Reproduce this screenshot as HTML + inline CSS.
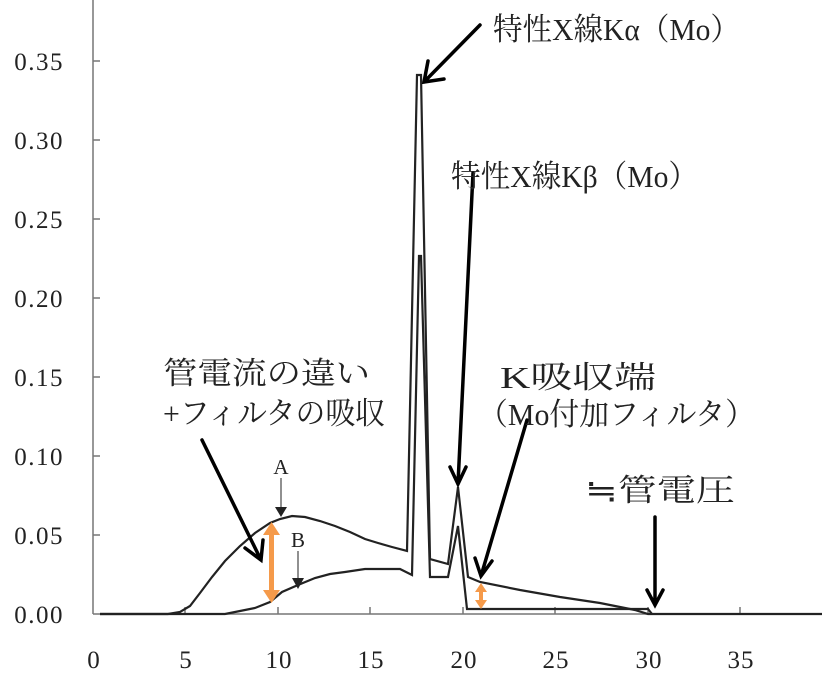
<!DOCTYPE html>
<html><head><meta charset="utf-8"><style>
body{margin:0;background:#fff}
svg{display:block}
text{font-family:"Liberation Serif","Noto Serif CJK JP","Noto Serif CJK SC",serif;fill:#222}
</style></head><body>
<svg width="822" height="683" viewBox="0 0 822 683">
<g stroke="#777" stroke-width="1.5" fill="none">
<line x1="93" y1="0" x2="93" y2="614"/>
<line x1="93" y1="614" x2="822" y2="614"/>
<path d="M93,535h7M93,456h7M93,377h7M93,298h7M93,219h7M93,140h7M93,61h7"/>
<path d="M185,614v-7M278,614v-7M370,614v-7M463,614v-7M555,614v-7M648,614v-7M740,614v-7"/>
</g>
<g font-size="25" text-anchor="end" letter-spacing="1.5">
<text x="64" y="623">0.00</text><text x="64" y="544">0.05</text><text x="64" y="465">0.10</text>
<text x="64" y="386">0.15</text><text x="64" y="307">0.20</text><text x="64" y="228">0.25</text>
<text x="64" y="149">0.30</text><text x="64" y="70">0.35</text>
</g>
<g font-size="25" text-anchor="middle" letter-spacing="1">
<text x="94" y="668">0</text><text x="186" y="668">5</text><text x="279" y="668">10</text><text x="371" y="668">15</text><text x="464" y="668">20</text><text x="556" y="668">25</text><text x="649" y="668">30</text><text x="741" y="668">35</text>
</g>
<g fill="none" stroke="#222" stroke-width="2.2" stroke-linejoin="miter">
<path d="M100,614 L168,614 L180,612 L190,606 L200,593 L212,577 L225,561 L240,546 L255,533 L270,523 L280,519 L292,516 L305,517 L320,521 L335,526 L350,532 L365,539 L378,543 L392,547 L407,551 L417,75 L421,75 L430,559 L448,564 L458,487 L468,577 L480,582 L520,590 L560,597 L600,603 L635,610 L648,614 L822,614"/>
<path d="M100,614 L225,614 L240,611 L255,608 L270,602 L282,592 L298,585 L315,578 L330,574 L345,572 L365,569 L380,569 L400,569 L412,575 L419,256 L421,256 L430,577 L448,577 L458,526 L467,609 L648,609 L652,614"/>
</g>
<g fill="#f59a4a" stroke="none">
<rect x="269" y="533" width="5" height="60"/>
<path d="M263,535 L271.5,522 L280,535Z M263,590 L271.5,603 L280,590Z"/>
<rect x="479" y="589" width="4" height="13"/>
<path d="M475,592 L481,583 L487,592Z M475,600 L481,609 L487,600Z"/>
</g>
<text x="281" y="474" font-size="21" text-anchor="middle">A</text>
<line x1="281" y1="478" x2="281" y2="508" stroke="#222" stroke-width="1"/>
<path d="M275,507 L287,507 L281,517Z" fill="#222"/>
<text x="298" y="547" font-size="21" text-anchor="middle">B</text>
<line x1="298" y1="551" x2="298" y2="580" stroke="#222" stroke-width="1"/>
<path d="M292,578 L304,578 L298,589Z" fill="#222"/>
<g stroke="#000" stroke-width="3.5" fill="none" stroke-linecap="round">
<path d="M202,440 L261,560 M245,548 L261,560 L263,540"/>
<path d="M480,25 L424,82 M428,61 L424,82 L444,79"/>
<path d="M473,173 L458,484 M450,467 L458,484 L466,467"/>
<path d="M527,420 L481,576 M475,558 L481,576 L492,561"/>
<path d="M655,517 L655,605 M647,590 L655,605 L663,590"/>
</g>
<g font-size="31">
<text x="493" y="40" textLength="247" lengthAdjust="spacingAndGlyphs">特性X線Kα（Mo）</text>
<text x="451" y="187" textLength="247" lengthAdjust="spacingAndGlyphs">特性X線Kβ（Mo）</text>
<text x="500" y="388" textLength="156" lengthAdjust="spacingAndGlyphs">K吸収端</text>
<text x="478" y="425" textLength="277" lengthAdjust="spacingAndGlyphs">（Mo付加フィルタ）</text>
<text x="585" y="501" textLength="150" lengthAdjust="spacingAndGlyphs">≒管電圧</text>
<text x="163" y="384" textLength="207" lengthAdjust="spacingAndGlyphs">管電流の違い</text>
<text x="163" y="424" textLength="222" lengthAdjust="spacingAndGlyphs">+フィルタの吸収</text>
</g>
</svg>
</body></html>
